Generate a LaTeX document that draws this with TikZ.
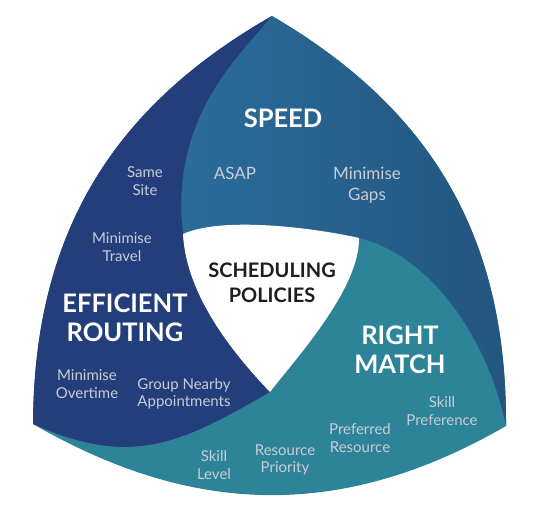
\documentclass[tikz,border=0pt]{standalone}
\usepackage{fontspec}
\setmainfont{Lato}
\definecolor{darkblue}{HTML}{233E7A}
\definecolor{speedL}{HTML}{2B6D9B}
\definecolor{speedR}{HTML}{23557F}
\definecolor{tealc}{HTML}{2D8498}
\definecolor{lbl}{HTML}{C8CDD5}
\definecolor{core}{HTML}{1E1E1E}
\tikzset{
  head/.style={text=white, align=center, inner sep=0pt, font=\fontsize{25.5}{29.5}\selectfont\bfseries},
  mid/.style={text=lbl, align=center, inner sep=0pt, font=\fontsize{17}{21}\selectfont},
  small/.style={text=lbl, align=center, inner sep=0pt, font=\fontsize{15}{17.5}\selectfont},
  corelbl/.style={text=core, align=center, inner sep=0pt, font=\fontsize{20}{25}\selectfont\bfseries}
}
\begin{document}
\begin{tikzpicture}[x=1pt,y=-1pt]
\useasboundingbox (0,0) rectangle (550,526);
\coordinate (T) at (272,16);
\coordinate (L) at (33,424);
\coordinate (R) at (506,426);
\coordinate (A) at (183,234);
\coordinate (B) at (359,238);
\coordinate (C) at (270,392);
% whole outer shape (teal)
\fill[tealc] (T) .. controls (109.5,108.6) and (34,237) .. (L)
  .. controls (195,517.5) and (344,519.5) .. (R)
  .. controls (507,239) and (433.6,110.4) .. (T) -- cycle;
% speed region
\shade[left color=speedL, right color=speedR] (T) .. controls (433.6,110.4) and (507,239) .. (R)
  .. controls (488,338) and (430,255) .. (B)
  .. controls (315,228) and (223,216) .. (A)
  .. controls (170,120) and (235,60) .. (T) -- cycle;
% efficient routing region
\fill[darkblue] (T) .. controls (235,60) and (170,120) .. (A)
  .. controls (186,290) and (225,345) .. (C)
  .. controls (183,442) and (133,469) .. (L)
  .. controls (34,237) and (109.5,108.6) .. (T) -- cycle;
% white core
\fill[white] (A) .. controls (186,290) and (225,345) .. (C)
  .. controls (291,364) and (360,290) .. (B)
  .. controls (315,228) and (223,216) .. (A) -- cycle;
% labels
\node[head] (speed) at (283,118.5) {SPEED};
\node[mid] (asap) at (235,173) {ASAP};
\node[mid] (gaps) at (367,185) {Minimise\\Gaps};
\node[small] (site) at (145,181) {Same\\Site};
\node[small] (travel) at (122,247) {Minimise\\Travel};
\node[head] (route) at (125,318) {EFFICIENT\\ROUTING};
\node[small] (overtime) at (87,384) {Minimise\\Overtime};
\node[small] (group) at (184,394) {Group Nearby\\Appointments};
\node[corelbl] (core) at (272,283) {SCHEDULING\\POLICIES};
\node[head] (match) at (400,350) {RIGHT\\MATCH};
\node[small] (skillpref) at (442,411) {Skill\\Preference};
\node[small] (prefres) at (360,438) {Preferred\\Resource};
\node[small] (respri) at (285,460) {Resource\\Priority};
\node[small] (skilllvl) at (214,465) {Skill\\Level};
\end{tikzpicture}
\end{document}
